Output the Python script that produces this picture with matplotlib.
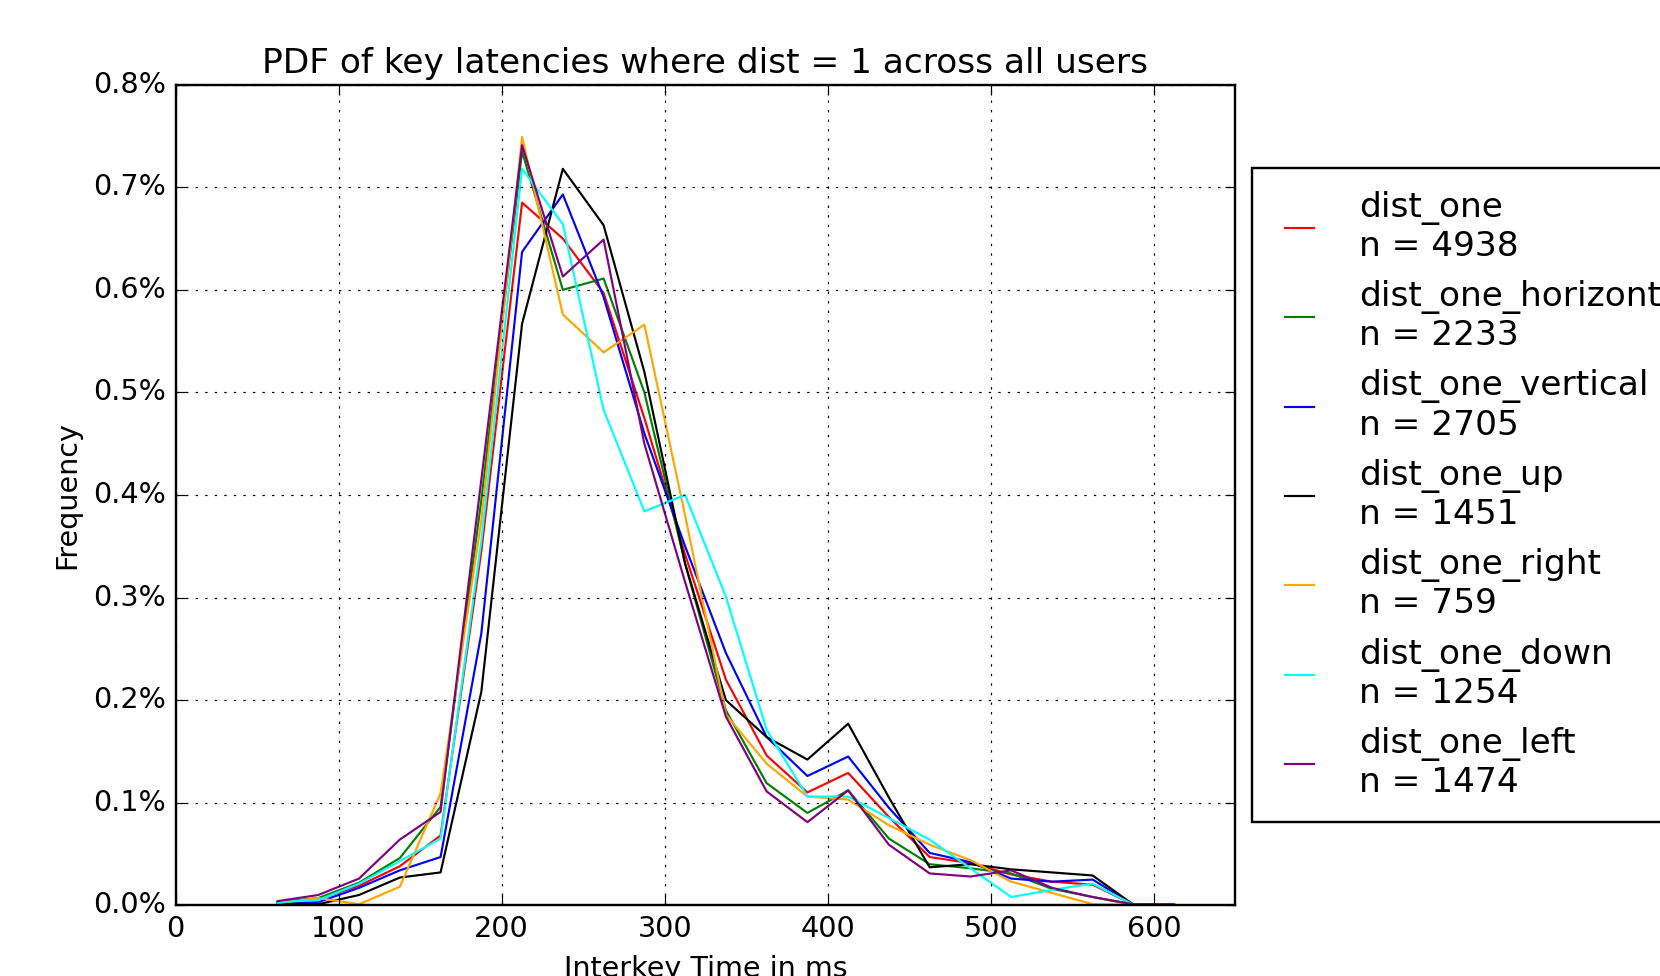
import matplotlib
matplotlib.use('Agg')
import matplotlib.pyplot as plt
from matplotlib.ticker import FuncFormatter

# bin centres (ms)
bins = [62.5, 87.5, 112.5, 137.5, 162.5, 187.5, 212.5, 237.5, 262.5, 287.5,
        312.5, 337.5, 362.5, 387.5, 412.5, 437.5, 462.5, 487.5, 512.5, 537.5,
        562.5, 587.5, 612.5]

# frequencies in percent
dist_one = [0.003, 0.006, 0.019, 0.038, 0.068, 0.345, 0.685, 0.650, 0.597, 0.475,
            0.342, 0.220, 0.146, 0.110, 0.129, 0.086, 0.047, 0.041, 0.030, 0.023,
            0.020, 0.0005, 0.0002]
dist_one_horizontal = [0.003, 0.007, 0.022, 0.046, 0.096, 0.395, 0.735, 0.600, 0.611, 0.500,
                       0.333, 0.190, 0.119, 0.090, 0.112, 0.065, 0.040, 0.036, 0.031, 0.016,
                       0.008, 0.0005, 0.0002]
dist_one_vertical = [0.002, 0.003, 0.017, 0.034, 0.047, 0.265, 0.637, 0.693, 0.593, 0.460,
                     0.350, 0.246, 0.164, 0.126, 0.145, 0.095, 0.051, 0.042, 0.026, 0.023,
                     0.025, 0.0005, 0.0002]
dist_one_up = [0.002, 0.001, 0.010, 0.027, 0.032, 0.208, 0.567, 0.718, 0.663, 0.520,
               0.333, 0.200, 0.164, 0.142, 0.177, 0.105, 0.037, 0.040, 0.035, 0.032,
               0.029, 0.0005, 0.0002]
dist_one_right = [0.002, 0.007, 0.001, 0.018, 0.109, 0.375, 0.749, 0.576, 0.539, 0.566,
                  0.380, 0.186, 0.138, 0.106, 0.103, 0.078, 0.059, 0.044, 0.023, 0.012,
                  0.001, 0.0003, 0.0002]
dist_one_down = [0.003, 0.005, 0.021, 0.043, 0.065, 0.355, 0.718, 0.664, 0.483, 0.384,
                 0.400, 0.301, 0.171, 0.106, 0.106, 0.085, 0.064, 0.036, 0.008, 0.015,
                 0.021, 0.0005, 0.0002]
dist_one_left = [0.004, 0.010, 0.026, 0.064, 0.091, 0.415, 0.741, 0.613, 0.649, 0.450,
                 0.315, 0.184, 0.111, 0.081, 0.112, 0.059, 0.031, 0.028, 0.034, 0.017,
                 0.008, 0.001, 0.001]

names = ['dist_one', 'dist_one_horizontal', 'dist_one_vertical', 'dist_one_up',
         'dist_one_right', 'dist_one_down', 'dist_one_left']
counts = [4938, 2233, 2705, 1451, 759, 1254, 1474]
series = [dist_one, dist_one_horizontal, dist_one_vertical, dist_one_up,
          dist_one_right, dist_one_down, dist_one_left]
colors = ['red', 'green', 'blue', 'black', 'orange', 'cyan', 'purple']

plt.style.use('classic')
plt.rcParams['figure.facecolor'] = 'white'
plt.rcParams['savefig.facecolor'] = 'white'

dpi = 172
fig = plt.figure(figsize=(1660 / dpi, 976 / dpi), dpi=dpi)
ax = fig.add_axes([0.1058, 0.0725, 0.6384, 0.8407])

for name, n, vals, c in zip(names, counts, series, colors):
    ax.plot(bins, vals, color=c, linewidth=0.9, label='%s\nn = %d' % (name, n))

ax.set_xlim(0, 650)
ax.set_ylim(0, 0.8)
ax.set_xticks([0, 100, 200, 300, 400, 500, 600])
ax.set_yticks([0.0, 0.1, 0.2, 0.3, 0.4, 0.5, 0.6, 0.7, 0.8])
ax.yaxis.set_major_formatter(FuncFormatter(lambda y, p: '%.1f%%' % y))
ax.grid(True)

ax.set_title('PDF of key latencies where dist = 1 across all users', fontsize=14.4)
ax.set_xlabel('Interkey Time in ms')
ax.set_ylabel('Frequency')

ax.legend(loc='center left', bbox_to_anchor=(1.016, 0.5), borderaxespad=0,
          fontsize=14.4, handlelength=1.45, handletextpad=1.0, borderpad=0.65)

fig.savefig('out.png', dpi=dpi)
